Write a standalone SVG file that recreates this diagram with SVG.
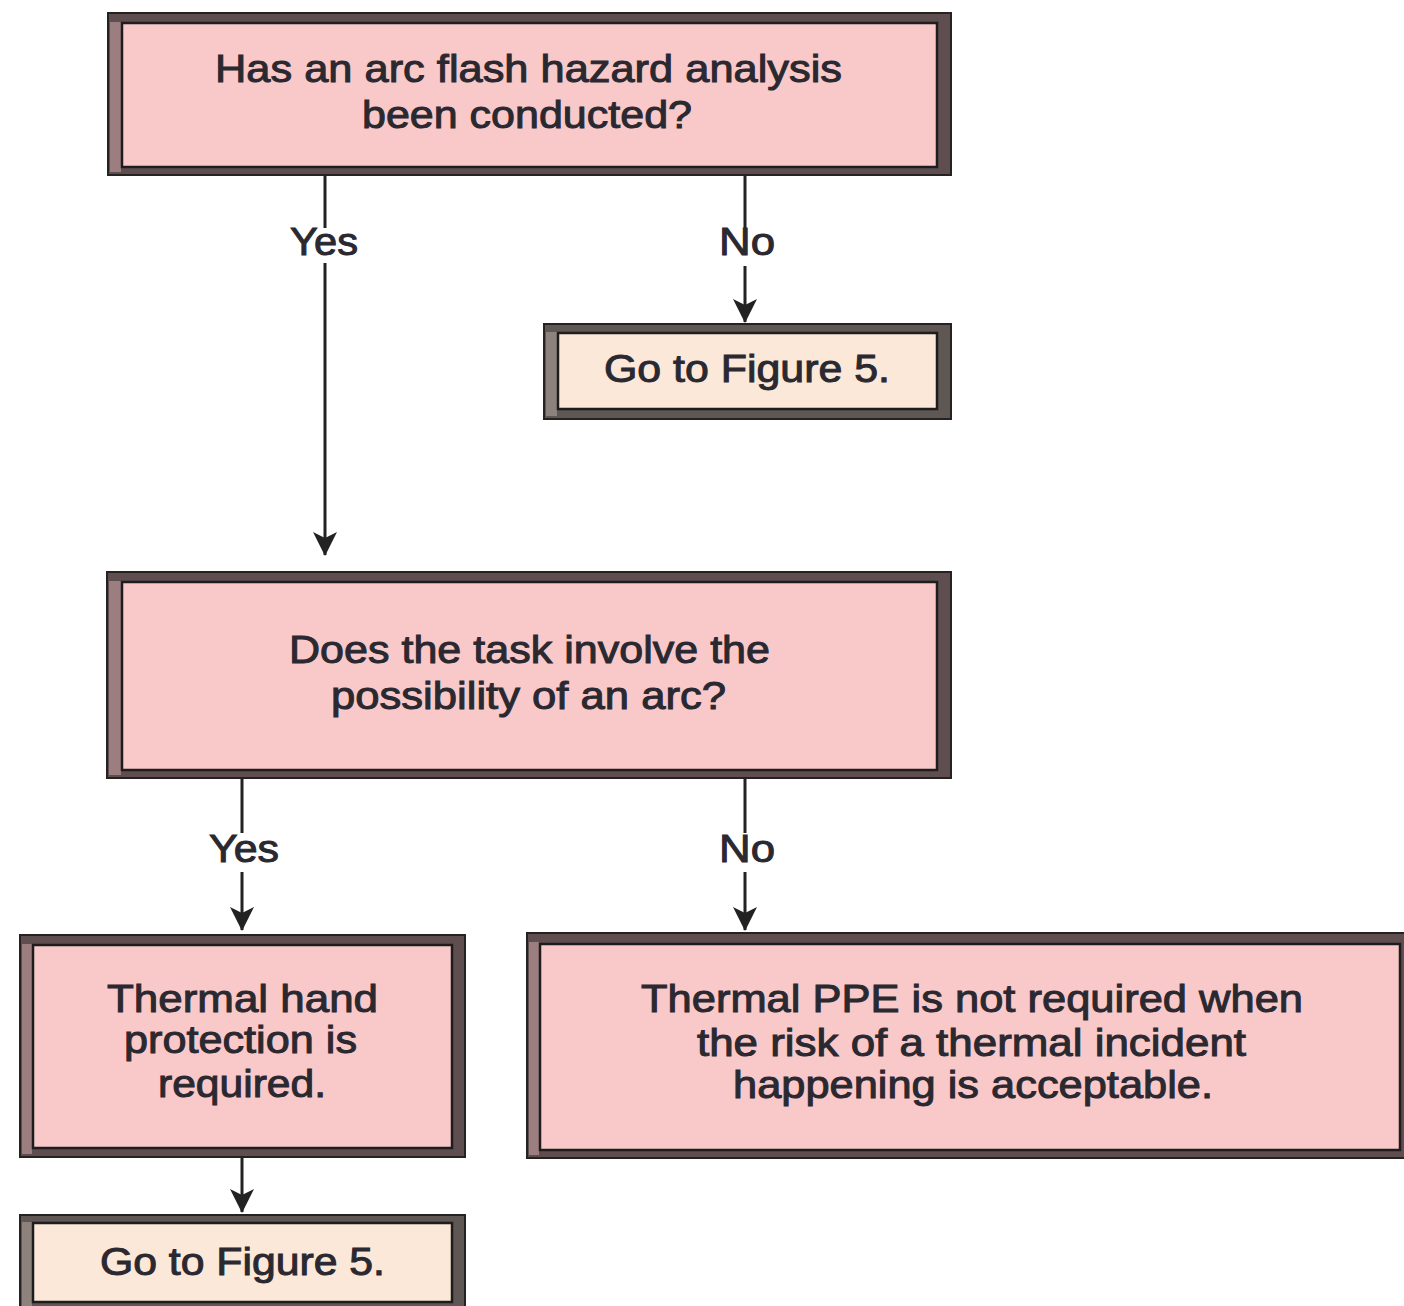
<svg xmlns="http://www.w3.org/2000/svg" width="1404" height="1306" viewBox="0 0 1404 1306">
<style>
.outer{stroke:#262222;stroke-width:2}
.outer.p{fill:#5f4e50}
.outer.c{fill:#5e5753}
.band.p{fill:#9c7e81}
.band.c{fill:#8e837c}
.inner{stroke:#1e1c1c;stroke-width:2.5}
.inner.p{fill:#f9c8c9}
.inner.c{fill:#fbe8d8}
text{font-family:"Liberation Sans",Arial,sans-serif;font-size:39px;fill:#2a2830;stroke:#2a2830;stroke-width:1}
.lbl{font-size:39px}
.conn{fill:none;stroke:#222;stroke-width:3}
</style>
<defs>
<marker id="ah" viewBox="0 0 24 26" refX="23" refY="13" markerWidth="24" markerHeight="26" markerUnits="userSpaceOnUse" orient="auto">
<path d="M0,1 L24,13 L0,25 L6,13 Z" fill="#222"/>
</marker>
</defs>
<rect width="1404" height="1306" fill="#ffffff"/>

<g id="connectors">
<path class="conn" d="M325,175 V228 M325,263 V555" marker-end="url(#ah)"/>
<path class="conn" d="M745,175 V229 M745,266 V322" marker-end="url(#ah)"/>
<path class="conn" d="M242,778 V833 M242,872 V930" marker-end="url(#ah)"/>
<path class="conn" d="M745,778 V833 M745,872 V930" marker-end="url(#ah)"/>
<path class="conn" d="M242,1157 V1212" marker-end="url(#ah)"/>
<text class="lbl" x="290" y="255" textLength="68" lengthAdjust="spacingAndGlyphs">Yes</text>
<text class="lbl" x="719" y="255" textLength="56" lengthAdjust="spacingAndGlyphs">No</text>
<text class="lbl" x="209" y="862" textLength="70" lengthAdjust="spacingAndGlyphs">Yes</text>
<text class="lbl" x="719" y="862" textLength="56" lengthAdjust="spacingAndGlyphs">No</text>
</g>

<g id="q1">
<rect class="outer p" x="108" y="13" width="843" height="162"/>
<rect class="band p" x="110" y="22" width="11" height="150"/>
<rect class="inner p" x="122" y="23" width="815" height="144"/>
<text x="215" y="82" textLength="627" lengthAdjust="spacingAndGlyphs">Has an arc flash hazard analysis</text>
<text x="362" y="128" textLength="330" lengthAdjust="spacingAndGlyphs">been conducted?</text>
</g>

<g id="goto1">
<rect class="outer c" x="544" y="324" width="407" height="95"/>
<rect class="band c" x="546" y="332" width="11" height="84"/>
<rect class="inner c" x="558" y="333" width="379" height="76"/>
<text x="604" y="382" textLength="286" lengthAdjust="spacingAndGlyphs">Go to Figure 5.</text>
</g>

<g id="q2">
<rect class="outer p" x="107" y="572" width="844" height="206"/>
<rect class="band p" x="109" y="581" width="12" height="194"/>
<rect class="inner p" x="122" y="582" width="815" height="188"/>
<text x="289" y="663" textLength="481" lengthAdjust="spacingAndGlyphs">Does the task involve the</text>
<text x="331" y="709" textLength="395" lengthAdjust="spacingAndGlyphs">possibility of an arc?</text>
</g>

<g id="yes2">
<rect class="outer p" x="20" y="935" width="445" height="222"/>
<rect class="band p" x="22" y="944" width="10" height="210"/>
<rect class="inner p" x="33" y="945" width="419" height="203"/>
<text x="107" y="1012" textLength="271" lengthAdjust="spacingAndGlyphs">Thermal hand</text>
<text x="124" y="1053" textLength="233" lengthAdjust="spacingAndGlyphs">protection is</text>
<text x="158" y="1097" textLength="168" lengthAdjust="spacingAndGlyphs">required.</text>
</g>

<g id="no2">
<rect class="outer p" x="527" y="933" width="890" height="225"/>
<rect class="band p" x="529" y="942" width="10" height="213"/>
<rect class="inner p" x="540" y="944" width="860" height="206"/>
<text x="641" y="1012" textLength="662" lengthAdjust="spacingAndGlyphs">Thermal PPE is not required when</text>
<text x="697" y="1056" textLength="549" lengthAdjust="spacingAndGlyphs">the risk of a thermal incident</text>
<text x="733" y="1098" textLength="480" lengthAdjust="spacingAndGlyphs">happening is acceptable.</text>
</g>

<g id="goto2">
<rect class="outer c" x="20" y="1215" width="445" height="100"/>
<rect class="band c" x="22" y="1222" width="10" height="90"/>
<rect class="inner c" x="33" y="1223" width="419" height="79"/>
<text x="100" y="1275" textLength="285" lengthAdjust="spacingAndGlyphs">Go to Figure 5.</text>
</g>
</svg>
